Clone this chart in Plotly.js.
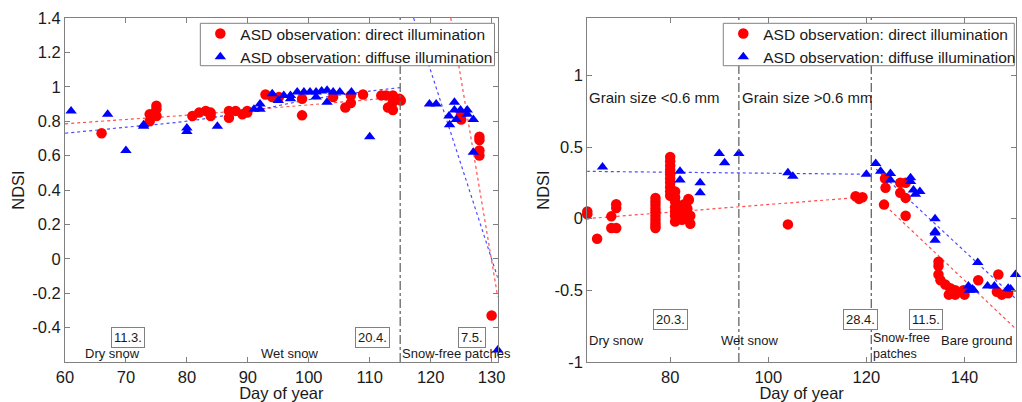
<!DOCTYPE html>
<html>
<head>
<meta charset="utf-8">
<script src="https://cdn.plot.ly/plotly-3.0.1.min.js"></script>
<style>html,body{margin:0;padding:0;background:#fff;}#chart{width:1022px;height:402px;}</style>
</head>
<body>
<div id="chart"></div>
<script>
// ---------- data ----------
const seriesNames = ["ASD observation: direct illumination", "ASD observation: diffuse illumination"];

// Left panel
const leftDirectX = [66, 73.9, 73.9, 75, 75, 75, 80.9, 82, 83.1, 83.9, 83.9, 86.9, 86.9, 88, 89.1, 89.9, 89.9, 92.9, 94, 95.1, 98.9, 98.9, 104, 106, 106.9, 106.9, 108.9, 111.9, 112.7, 113, 113.8, 113.8, 113.8, 114.9, 115.1, 125, 125, 128, 128, 128, 128, 130];
const leftDirectY = [0.73, 0.84, 0.80, 0.89, 0.87, 0.83, 0.83, 0.85, 0.86, 0.85, 0.83, 0.86, 0.82, 0.86, 0.84, 0.85, 0.86, 0.955, 0.94, 0.94, 0.93, 0.834, 0.94, 0.88, 0.95, 0.906, 0.955, 0.95, 0.95, 0.88, 0.95, 0.91, 0.865, 0.93, 0.92, 0.84, 0.81, 0.71, 0.69, 0.63, 0.60, -0.33];
const leftDiffuseX = [61, 67, 70, 72.9, 72.9, 80, 80, 85, 91, 92, 92, 94, 95, 95.9, 97, 97, 98.1, 99.2, 100.2, 101.2, 101.2, 102.1, 103, 103, 104, 105.1, 107, 110, 119.8, 120.9, 123.9, 123.9, 123, 123.1, 124.2, 124.9, 126, 126, 127, 127, 131];
const leftDiffuseY = [0.86, 0.84, 0.63, 0.78, 0.77, 0.76, 0.74, 0.77, 0.87, 0.90, 0.87, 0.96, 0.92, 0.95, 0.95, 0.93, 0.97, 0.97, 0.97, 0.97, 0.94, 0.975, 0.98, 0.91, 0.97, 0.97, 0.97, 0.71, 0.90, 0.90, 0.91, 0.865, 0.83, 0.78, 0.81, 0.865, 0.865, 0.84, 0.81, 0.62, -0.53];

// Left fit lines
const leftFitDirectX = [60, 70, 80, 90, 100, 110, 115];
const leftFitDirectY = [0.785, 0.81, 0.835, 0.865, 0.895, 0.925, 0.94];
const leftFitDiffuseX = [60, 70, 80, 90, 100, 110, 115];
const leftFitDiffuseY = [0.73, 0.765, 0.80, 0.855, 0.925, 0.975, 0.995];
const leftMeltDirectX = [123.3, 131];
const leftMeltDirectY = [1.4, -0.22];
const leftMeltDiffuseX = [117.2, 131];
const leftMeltDiffuseY = [1.4, -0.11];

// Right panel
const rightDirectX = [63.1, 63.1, 65.1, 68.0, 68.0, 69.0, 69.0, 69.0,
  77, 77, 77, 77, 77, 77, 77, 77, 77, 77,
  80, 80, 80, 80, 80, 80, 80, 80, 80, 80,
  81, 81, 81, 81, 81, 81, 81,
  82.4, 82.4, 82.7, 82.9, 83.5, 83.7, 83.8, 84.1, 84.1,
  104, 117.8, 118.5, 119.2,
  123.8, 123.9, 123.6, 126.9, 128, 126.9, 128, 128,
  134.7, 134.7, 134.7, 135.1, 136.1, 137.1, 138.1, 138.1, 136.8, 139.8, 140, 142.8, 146.6, 146.9, 147.6, 148.9];
const rightDirectY = [0.05, 0.03, -0.14, 0.016, -0.065, 0.10, 0.075, -0.065,
  0.145, 0.12, 0.095, 0.07, 0.045, 0.02, -0.005, -0.03, -0.05, -0.065,
  0.43, 0.40, 0.37, 0.34, 0.31, 0.28, 0.25, 0.22, 0.19, 0.16,
  0.19, 0.15, 0.12, 0.08, 0.05, 0.02, -0.02,
  0.086, -0.007, 0.098, 0.04, 0.07, 0.138, 0.13, 0.02, -0.035,
  -0.04, 0.156, 0.138, 0.149,
  0.28, 0.215, 0.098, 0.25, 0.25, 0.18, 0.145, 0.02,
  -0.30, -0.33, -0.39, -0.43, -0.46, -0.485, -0.50, -0.53, -0.53, -0.50, -0.53, -0.43, -0.51, -0.39, -0.53, -0.52];
const rightDiffuseX = [66.2, 82, 82, 86.1, 86.1, 90, 91.1, 94, 104, 105, 120, 121.9, 122.9, 124.9, 124.9, 129, 129, 129.6, 130, 130.9, 134, 134, 134, 134, 142.7, 140.8, 141, 141.6, 141.9, 144.7, 146.1, 148.9, 149.4, 150.4];
const rightDiffuseY = [0.36, 0.33, 0.27, 0.25, 0.18, 0.455, 0.39, 0.455, 0.32, 0.296, 0.31, 0.385, 0.33, 0.315, 0.27, 0.285, 0.26, 0.2, 0.17, 0.19, 0.0, -0.09, -0.1, -0.15, -0.305, -0.47, -0.50, -0.49, -0.50, -0.47, -0.47, -0.485, -0.49, -0.39];

// Right fit lines
const rightFitDirectX = [63, 119.2];
const rightFitDirectY = [0.0, 0.15];
const rightFitDiffuseX = [63, 120.2];
const rightFitDiffuseY = [0.33, 0.31];
const rightMeltDirectX = [123.9, 150.5];
const rightMeltDirectY = [0.09, -0.77];
const rightMeltDiffuseX = [122, 150.5];
const rightMeltDiffuseY = [0.345, -0.56];

// Phase boundaries (day of year)
const leftBoundaries = [115];
const rightBoundaries = [94, 121];

// Tick labels
const leftXTicks = [60, 70, 80, 90, 100, 110, 120, 130];
const leftYTicks = [-0.4, -0.2, 0, 0.2, 0.4, 0.6, 0.8, 1, 1.2, 1.4];
const leftYTickText = ["-0.4", "-0.2", "0", "0.2", "0.4", "0.6", "0.8", "1", "1.2", "1.4"];
const rightXTicks = [80, 100, 120, 140];
const rightYTicks = [-1, -0.5, 0, 0.5, 1];
const rightYTickText = ["-1", "-0.5", "0", "0.5", "1"];

// ---------- styling ----------
const FONT = '"Liberation Sans", Arial, sans-serif';
const RED = '#ff0000', BLUE = '#0000ff';
const AXC = '#808080';

function markers(x, y, name, color, symbol, xa, ya, legend) {
  return {x, y, name, type: 'scatter', mode: 'markers', xaxis: xa, yaxis: ya, legend,
    cliponaxis: false,
    marker: {color, symbol, size: symbol === 'circle' ? 10.5 : 10, line: {width: 0}}};
}
function fit(x, y, color, xa, ya, shape) {
  return {x, y, type: 'scatter', mode: 'lines', xaxis: xa, yaxis: ya, showlegend: false, hoverinfo: 'skip',
    line: {color, width: 1.2, dash: 'dot', shape: shape || 'linear'}};
}

const traces = [
  fit(leftFitDirectX, leftFitDirectY, 'rgba(255,0,0,0.7)', 'x', 'y', 'spline'),
  fit(leftFitDiffuseX, leftFitDiffuseY, 'rgba(0,0,255,0.7)', 'x', 'y', 'spline'),
  fit(leftMeltDirectX, leftMeltDirectY, 'rgba(255,0,0,0.7)', 'x', 'y'),
  fit(leftMeltDiffuseX, leftMeltDiffuseY, 'rgba(0,0,255,0.7)', 'x', 'y'),
  fit(rightFitDirectX, rightFitDirectY, 'rgba(255,0,0,0.7)', 'x2', 'y2'),
  fit(rightFitDiffuseX, rightFitDiffuseY, 'rgba(0,0,255,0.7)', 'x2', 'y2'),
  fit(rightMeltDirectX, rightMeltDirectY, 'rgba(255,0,0,0.7)', 'x2', 'y2'),
  fit(rightMeltDiffuseX, rightMeltDiffuseY, 'rgba(0,0,255,0.7)', 'x2', 'y2'),
  markers(leftDirectX, leftDirectY, seriesNames[0], RED, 'circle', 'x', 'y', 'legend'),
  markers(leftDiffuseX, leftDiffuseY, seriesNames[1], BLUE, 'triangle-up', 'x', 'y', 'legend'),
  markers(rightDirectX, rightDirectY, seriesNames[0], RED, 'circle', 'x2', 'y2', 'legend2'),
  markers(rightDiffuseX, rightDiffuseY, seriesNames[1], BLUE, 'triangle-up', 'x2', 'y2', 'legend2')
];

const shapes = [];
leftBoundaries.forEach(d => shapes.push({type: 'line', xref: 'x', yref: 'y', x0: d, x1: d, y0: -0.6, y1: 1.4,
  layer: 'above', line: {color: '#666', width: 1.3, dash: 'dashdot'}}));
rightBoundaries.forEach(d => shapes.push({type: 'line', xref: 'x2', yref: 'y2', x0: d, x1: d, y0: -1, y1: 1.4,
  layer: 'above', line: {color: '#666', width: 1.3, dash: 'dashdot'}}));
// legend frames (white boxes behind the legend entries)
const legendFrames = [[0.1423, 0.4516], [0.6922, 0.9982]];
legendFrames.forEach(f => shapes.push({type: 'rect', xref: 'paper', yref: 'paper', x0: f[0], x1: f[1], y0: 0.8613, y1: 0.9846,
  layer: 'above', fillcolor: '#fff', line: {color: AXC, width: 1}}));

function label(text, x, y, xr, yr, anchor, size) {
  return {text, x, y, xref: xr, yref: yr, xanchor: anchor || 'left', yanchor: 'middle', showarrow: false,
    align: 'left', font: {family: FONT, size: size || 13, color: '#1a1a1a'}};
}
function boxed(text, x, y, xr, yr) {
  return {text, x, y, xref: xr, yref: yr, xanchor: 'center', yanchor: 'middle', showarrow: false,
    bgcolor: '#fff', bordercolor: AXC, borderwidth: 1, borderpad: 2,
    font: {family: FONT, size: 13, color: '#1a1a1a'}};
}

const annotations = [
  boxed('11.3.', 70.4, -0.455, 'x', 'y'),
  boxed('20.4.', 110.5, -0.455, 'x', 'y'),
  boxed('7.5.', 126.8, -0.455, 'x', 'y'),
  label('Dry snow', 62.9, -0.551, 'x', 'y'),
  label('Wet snow', 91.9, -0.551, 'x', 'y'),
  label('Snow-free patches', 115.0, -0.551, 'x', 'y'),
  label('Grain size &lt;0.6 mm', 63.1, 0.844, 'x2', 'y2', 'left', 15),
  label('Grain size &gt;0.6 mm', 94.2, 0.844, 'x2', 'y2', 'left', 15),
  boxed('20.3.', 80.1, -0.70, 'x2', 'y2'),
  boxed('28.4.', 118.9, -0.70, 'x2', 'y2'),
  boxed('11.5.', 132.1, -0.70, 'x2', 'y2'),
  label('Dry snow', 63.1, -0.851, 'x2', 'y2'),
  label('Wet snow', 90.0, -0.851, 'x2', 'y2'),
  label('Snow-free<br>patches', 121.0, -0.89, 'x2', 'y2', 'left', 12.5),
  label('Bare ground', 134.9, -0.851, 'x2', 'y2')
];

const axisCommon = {
  showline: true, linecolor: AXC, linewidth: 1, mirror: 'ticks', ticks: 'inside', ticklen: 5,
  tickcolor: AXC, showgrid: false, zeroline: false, tickmode: 'array',
  tickfont: {family: FONT, size: 16.5, color: '#1a1a1a'}
};
const titleFont = {family: FONT, size: 16.5, color: '#1a1a1a'};

const legendCommon = {
  bgcolor: 'rgba(0,0,0,0)', borderwidth: 0, xanchor: 'left', yanchor: 'top', y: 1.003,
  font: {family: FONT, size: 15.5, color: '#1a1a1a'}, tracegroupgap: 0
};

const layout = {
  width: 1022, height: 402,
  margin: {l: 65, r: 1, t: 18, b: 40},
  paper_bgcolor: '#fff', plot_bgcolor: '#fff',
  font: {family: FONT},
  xaxis: Object.assign({}, axisCommon, {domain: [0, 0.455], range: [60, 131], tickvals: leftXTicks,
    title: {text: 'Day of year', font: titleFont, standoff: 4}, anchor: 'y'}),
  yaxis: Object.assign({}, axisCommon, {domain: [0, 1], range: [-0.6, 1.4], tickvals: leftYTicks, ticktext: leftYTickText,
    title: {text: 'NDSI', font: titleFont, standoff: 3}, anchor: 'x'}),
  xaxis2: Object.assign({}, axisCommon, {domain: [0.5492, 1], range: [63.1, 150.5], tickvals: rightXTicks,
    title: {text: 'Day of year', font: titleFont, standoff: 4}, anchor: 'y2'}),
  yaxis2: Object.assign({}, axisCommon, {domain: [0, 1], range: [-1, 1.4], tickvals: rightYTicks, ticktext: rightYTickText,
    title: {text: 'NDSI', font: titleFont, standoff: 0}, anchor: 'x2'}),
  legend: Object.assign({}, legendCommon, {x: 0.1423}),
  legend2: Object.assign({}, legendCommon, {x: 0.6922}),
  shapes, annotations
};

Plotly.newPlot('chart', traces, layout, {displayModeBar: false, staticPlot: true});
</script>
</body>
</html>
